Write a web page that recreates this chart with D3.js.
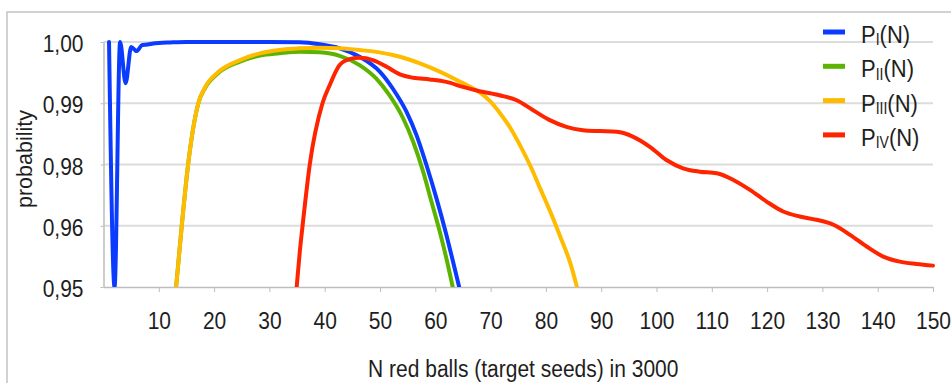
<!DOCTYPE html>
<html>
<head>
<meta charset="utf-8">
<script src="https://cdn.jsdelivr.net/npm/d3@7"></script>
<style>
  html, body { margin: 0; padding: 0; background: #fff; }
  svg { display: block; }
  text { font-family: "Liberation Sans", Arial, sans-serif; fill: #1e1e1e; }
</style>
</head>
<body>
<svg id="chart" width="951" height="383"></svg>
<script>
// ---- data ----
const yTickValues = [0.95, 0.96, 0.98, 0.99, 1.00];
const yTickLabels = ["0,95", "0,96", "0,98", "0,99", "1,00"];
const xTickValues = [10, 20, 30, 40, 50, 60, 70, 80, 90, 100, 110, 120, 130, 140, 150];

const seriesNames = ["I", "II", "III", "IV"];
const seriesColors = ["#0a3bff", "#5cb400", "#ffbb00", "#ff2400"];

const N_I = [1, 2, 3, 4, 5, 6, 7, 8, 9, 10, 12, 15, 20, 25, 30, 35.5, 39.1, 42.7, 46.3, 50, 52.3, 54.8, 56.6, 58.4, 60.2, 62, 63.2, 64.4];
const P_I = [1.0, 0.95, 1.0, 0.99328, 0.99918, 0.99852, 0.99951, 0.99959, 0.99975, 0.99984, 0.99992, 1.0, 1.0, 1.0, 1.0, 0.99995, 0.99962, 0.99897, 0.99759, 0.99513, 0.99241, 0.98859, 0.98480, 0.97984, 0.96901, 0.95852, 0.95415, 0.9497];

const N_II = [13.1, 14.15, 15.3, 17.15, 18.4, 20.8, 24.7, 28.3, 31.8, 35.5, 39.1, 42.7, 46.3, 49.3, 51.7, 54.2, 56.0, 57.8, 59.3, 60.8, 62.0, 63.2];
const P_II = [0.9497, 0.96, 0.98, 0.99, 0.99254, 0.99497, 0.99680, 0.99779, 0.99815, 0.99841, 0.99831, 0.99775, 0.99623, 0.99405, 0.99131, 0.98751, 0.98371, 0.97766, 0.96790, 0.95907, 0.95470, 0.94979];

const N_III = [13.1, 14.15, 15.3, 17.15, 18.4, 20.8, 24.7, 28.3, 31.8, 35.5, 39.1, 42.7, 46.3, 49.9, 53.6, 57.2, 60.9, 62.7, 64.5, 66.3, 68.1, 69.9, 71.7, 73.6, 75.4, 77.2, 79.0, 80.8, 82.6, 84.4, 85.7];
const P_III = [0.9497, 0.96, 0.98, 0.99, 0.99267, 0.99513, 0.99705, 0.99815, 0.99869, 0.99897, 0.99907, 0.99897, 0.99869, 0.99831, 0.99759, 0.99651, 0.99513, 0.99434, 0.99349, 0.99270, 0.99172, 0.99033, 0.98837, 0.98593, 0.98301, 0.97951, 0.97203, 0.96455, 0.95820, 0.95393, 0.9497];

const N_IV = [34.9, 35.5, 36.0, 37.3, 39.6, 40.9, 42.7, 44.5, 46.3, 48.7, 51.2, 53.6, 56.0, 59.0, 62.0, 65.0, 68.0, 71.6, 74.7, 77.7, 80.7, 83.7, 86.7, 89.7, 92.8, 95.8, 98.8, 101.8, 104.8, 107.8, 110.9, 113.9, 116.9, 119.9, 122.9, 125.9, 128.9, 132.0, 135.0, 138.0, 141.0, 144.0, 147.0, 150.0];
const P_IV = [0.9497, 0.95579, 0.96, 0.98, 0.99, 0.99295, 0.99623, 0.99721, 0.99743, 0.99705, 0.99595, 0.99470, 0.99415, 0.99389, 0.99349, 0.99267, 0.99197, 0.99131, 0.99049, 0.98886, 0.98724, 0.98615, 0.98561, 0.98545, 0.98533, 0.98452, 0.98289, 0.98073, 0.97876, 0.97766, 0.97714, 0.97496, 0.97171, 0.96790, 0.96465, 0.96302, 0.96195, 0.96033, 0.95852, 0.95661, 0.95497, 0.95415, 0.95377, 0.95349];

const seriesN = [N_I, N_II, N_III, N_IV];
const seriesP = [P_I, P_II, P_III, P_IV];

// ---- layout ----
const svg = d3.select("#chart");
const W = 951, H = 383;
const plot = { left: 103.5, right: 933, top: 42, bottom: 287 };
const K = 1.12; // vertical stretch of text, as in the reference

// frame
svg.append("path")
  .attr("d", `M7,${H + 2} L7,12 L${W + 2},12`)
  .attr("fill", "none").attr("stroke", "#c4c4c4").attr("stroke-width", 1.5);

const x = d3.scaleLinear().domain([0, 150]).range([plot.left, plot.right]);
const step = (plot.bottom - plot.top) / (yTickValues.length - 1);
const y = d3.scaleLinear()
  .domain(yTickValues)
  .range(yTickValues.map((d, i) => plot.bottom - i * step));

// gridlines
svg.append("g").selectAll("line")
  .data(yTickValues.slice(1))
  .join("line")
  .attr("x1", plot.left).attr("x2", plot.right)
  .attr("y1", d => y(d)).attr("y2", d => y(d))
  .attr("stroke", "#dcdcdc").attr("stroke-width", 2);

// x axis
const xAxis = svg.append("g")
  .attr("transform", `translate(0,${plot.bottom})`)
  .call(d3.axisBottom(x).tickValues(xTickValues).tickSize(5).tickPadding(15).tickSizeOuter(0));
xAxis.select(".domain").attr("stroke", "#bdbdbd").attr("stroke-width", 1.5);
xAxis.selectAll(".tick line").attr("stroke", "#bdbdbd");
xAxis.selectAll(".tick text")
  .attr("font-size", 21).attr("fill", "#1e1e1e")
  .attr("font-family", "Liberation Sans, Arial, sans-serif")
  .attr("dy", null).attr("y", 42 / K)
  .attr("transform", `scale(1,${K})`);

// y axis
const yAxis = svg.append("g")
  .attr("transform", `translate(${plot.left},0)`)
  .call(d3.axisLeft(y).tickValues(yTickValues).tickFormat((d, i) => yTickLabels[i]).tickSize(3).tickPadding(17).tickSizeOuter(0));
yAxis.select(".domain").attr("stroke", "#bdbdbd").attr("stroke-width", 1.5);
yAxis.selectAll(".tick line").attr("stroke", "#bdbdbd");
yAxis.selectAll(".tick text")
  .attr("font-size", 21).attr("fill", "#1e1e1e")
  .attr("font-family", "Liberation Sans, Arial, sans-serif")
  .attr("dy", null).attr("y", 9.5 / K)
  .attr("transform", `scale(1,${K})`);

// clip
svg.append("clipPath").attr("id", "clip")
  .append("rect").attr("x", plot.left).attr("y", 0)
  .attr("width", plot.right - plot.left + 10).attr("height", plot.bottom);

const line = d3.line()
  .x(d => x(d[0])).y(d => y(d[1]))
  .curve(d3.curveMonotoneX);

const lines = svg.append("g").attr("clip-path", "url(#clip)");
seriesN.forEach((ns, si) => {
  const pts = ns.map((n, i) => [n, seriesP[si][i]]);
  lines.append("path")
    .attr("d", line(pts))
    .attr("fill", "none")
    .attr("stroke", seriesColors[si])
    .attr("stroke-width", 4)
    .attr("stroke-linejoin", "round")
    .attr("stroke-linecap", "round");
});

// axis titles
svg.append("text")
  .attr("transform", `translate(${(plot.left + plot.right) / 2 + 5},377) scale(1,${K})`)
  .attr("text-anchor", "middle")
  .attr("font-size", 21)
  .text("N red balls (target seeds) in 3000");

svg.append("text")
  .attr("transform", `translate(32,159) rotate(-90)`)
  .attr("text-anchor", "middle")
  .attr("font-family", "DejaVu Sans, sans-serif")
  .attr("font-size", 21.5)
  .text("probability");

// legend
const legend = svg.append("g");
const legY0 = 32, legStep = 34.3;
seriesNames.forEach((name, i) => {
  const ly = legY0 + i * legStep;
  legend.append("line")
    .attr("x1", 823).attr("x2", 845)
    .attr("y1", ly).attr("y2", ly)
    .attr("stroke", seriesColors[i]).attr("stroke-width", 5);
  const t = legend.append("text")
    .attr("transform", `translate(861,${ly + 11}) scale(1,${K})`)
    .attr("font-size", 22);
  t.append("tspan").text("P");
  t.append("tspan").attr("font-size", 14).attr("dy", 2).text(name);
  t.append("tspan").attr("dy", -2).text("(N)");
});
</script>
</body>
</html>
